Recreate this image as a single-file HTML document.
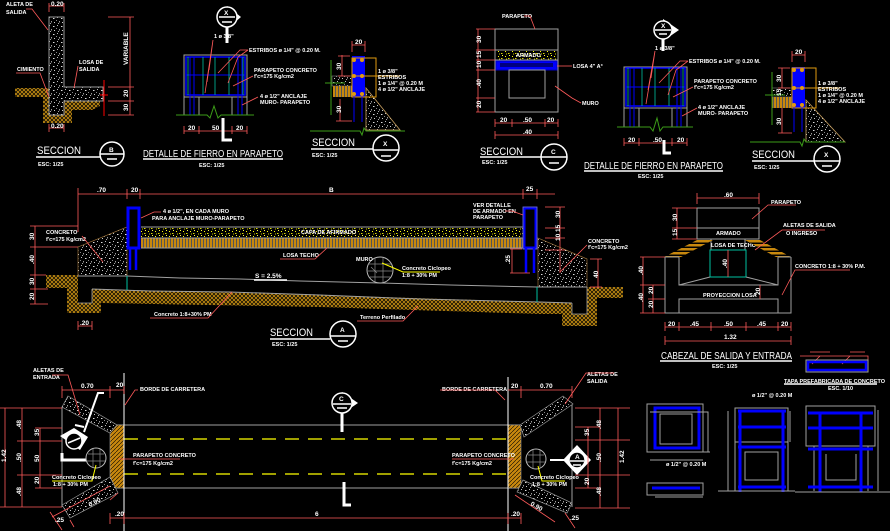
<!DOCTYPE html>
<html><head><meta charset="utf-8"><style>
html,body{margin:0;padding:0;background:#000;width:890px;height:531px;overflow:hidden}
svg{display:block}
.t{fill:#fff;font-size:5.5px;font-weight:bold}
.h{fill:#fff;font-size:11px}
.d{fill:#fff;font-size:6.5px;font-weight:bold}
.r{stroke:#ff5a5a;stroke-width:0.8;fill:none}
.g{stroke:#a0a0a0;stroke-width:1;fill:none}
.w{stroke:#fff;stroke-width:1.5;fill:none}
.tt{fill:#fff;font-size:10.5px}
</style></head><body>
<svg width="890" height="531" viewBox="0 0 890 531" xmlns="http://www.w3.org/2000/svg" font-family="Liberation Sans, sans-serif">
<defs>
<pattern id="conc" width="8" height="8" patternUnits="userSpaceOnUse"><rect width="8" height="8" fill="#000"/><rect x="1" y="1" width="1" height="1" fill="#bbb"/><rect x="5" y="2" width="1.5" height="1" fill="#ddd"/><rect x="3" y="5" width="1" height="1.5" fill="#999"/><rect x="6" y="6" width="1" height="1" fill="#ccc"/><rect x="0" y="4" width="1" height="1" fill="#888"/><rect x="2" y="7" width="1" height="1" fill="#aaa"/></pattern>
<pattern id="earth" width="4" height="4" patternUnits="userSpaceOnUse"><rect width="4" height="4" fill="#c08a12"/><path d="M0 0L4 4M4 0L0 4" stroke="#000" stroke-width="0.7"/></pattern>
<pattern id="grav" width="7" height="5" patternUnits="userSpaceOnUse"><rect width="7" height="5" fill="#000"/><rect x="1" y="1" width="1" height="1" fill="#ff0"/><rect x="4" y="3" width="1.5" height="1" fill="#dd0"/><rect x="5" y="0" width="1" height="1" fill="#ff4"/><rect x="2" y="3.5" width="1" height="1" fill="#cc0"/></pattern>
<pattern id="strp" width="3" height="10" patternUnits="userSpaceOnUse"><rect width="3" height="10" fill="#c8880e"/><rect x="2" width="1" height="10" fill="#555"/></pattern>
<pattern id="hat" width="4" height="4" patternUnits="userSpaceOnUse"><rect width="4" height="4" fill="#c8880e"/><path d="M0 4L4 0" stroke="#000" stroke-width="0.6"/></pattern>
<pattern id="wing" width="4" height="4" patternUnits="userSpaceOnUse"><rect width="4" height="4" fill="#c8880e"/><rect y="2.5" width="4" height="1.5" fill="#000"/></pattern>
</defs>

<!-- ========== SECTION B ========== -->
<path d="M15 88H49V115H64V101H100V106L92 110H72V123H43V97H15Z" fill="url(#earth)"/>
<path d="M49 17H64V87H103V101H64V115H49Z" fill="url(#conc)" stroke="#999"/>
<path class="r" d="M49 6H64M49 3V12M64 3V12"/><text class="d" x="51" y="6">0.20</text>
<path class="r" d="M49 128H64M49 124V132M64 124V132"/><text class="d" x="51" y="128">0.20</text>
<text class="t" x="6" y="6">ALETA DE</text><text class="t" x="6" y="14">SALIDA</text>
<path class="r" d="M26 9H32L48 30"/>
<text class="t" x="17" y="71">CIMIENTO</text><path class="r" d="M16 73H40L49 97"/>
<text class="t" x="79" y="64">LOSA DE</text><text class="t" x="79" y="71">SALIDA</text><path class="r" d="M78 66L74 88"/>
<path class="r" d="M130 17V115M108 17H134M108 87H134M108 101H134M108 115H134"/>
<text class="d" transform="rotate(-90 128 65)" x="128" y="65">VARIABLE</text>
<text class="d" transform="rotate(-90 128 97)" x="128" y="97">20</text>
<text class="d" transform="rotate(-90 128 111)" x="128" y="111">30</text>
<path d="M104 80V116M100 95H108" stroke="#f00" stroke-width="1"/>
<text class="h" x="37" y="154" textLength="44" lengthAdjust="spacingAndGlyphs">SECCION</text><path class="w" d="M36 157H100"/>
<circle cx="112" cy="154" r="12" class="w"/><path class="w" d="M100 154H124M107 159H117"/><text class="d" x="109" y="152">B</text>
<text class="t" x="38" y="166">ESC: 1/25</text>

<!-- ========== DETALLE FIERRO 1 ========== -->
<path d="M227 6L241 17L227 29" fill="#fff"/><circle cx="227" cy="17" r="10" fill="#000" stroke="#fff" stroke-width="1.5"/>
<path class="w" d="M219 17H235M222 22H232"/><text class="d" x="224" y="15">X</text>
<path d="M227 27V43" stroke="#fff" stroke-width="3"/>
<text class="t" x="214" y="38">1 ø 3/8"</text>
<rect x="184" y="55" width="63" height="42" class="g"/>
<rect x="186" y="57" width="59" height="38" fill="none" stroke="#0000ff" stroke-width="1.5"/>
<path d="M186 75H245M190 57V115M194 57V115M238 57V115M242 57V115" stroke="#0000ff" stroke-width="1"/>
<path d="M188 57V95M203 57V95M215 57V95M229 57V95M243 57V95" stroke="#00c0a0" stroke-width="0.8"/>
<path class="g" d="M184 97V115M199 97V115M232 97V115M247 97V115"/>
<path d="M176 115H207L210 118L214 106L218 118L221 115H254" stroke="#3c9c18" stroke-width="1" fill="none"/>
<path class="r" d="M184 131H247M184 126V134M199 126V134M232 126V134M247 126V134"/>
<text class="d" x="188" y="130">20</text><text class="d" x="212" y="130">50</text><text class="d" x="236" y="130">20</text>
<path d="M223 118V140H232" stroke="#fff" stroke-width="3" fill="none"/>
<path class="r" d="M213 40L205 93M213 40L207 82M213 40L209 70M248 50L240 50L218 73M248 50L238 57L228 83"/>
<text class="t" x="249" y="52">ESTRIBOS ø 1/4" @ 0.20 M.</text>
<text class="t" x="254" y="72">PARAPETO CONCRETO</text><text class="t" x="254" y="78">f'c=175 Kg/cm2</text>
<path class="r" d="M253 76L233 86"/>
<text class="t" x="260" y="98">4 ø 1/2" ANCLAJE</text><text class="t" x="260" y="104">MURO- PARAPETO</text>
<path class="r" d="M258 97L242 105"/>
<text class="tt" x="143" y="157" textLength="140" lengthAdjust="spacingAndGlyphs">DETALLE DE FIERRO EN PARAPETO</text>
<path class="w" d="M143 159H283" stroke-width="1"/>
<text class="t" x="199" y="167">ESC: 1/25</text>

<!-- ========== SECTION X 1 ========== -->
<rect x="332" y="76" width="20" height="10" fill="url(#conc)" stroke="#999" stroke-width="0.5"/>
<rect x="333" y="86" width="19" height="11" fill="url(#strp)"/>
<path d="M366 88L400 130H366Z" fill="url(#conc)" stroke="#c8a060" stroke-width="0.8"/>
<rect x="352" y="56" width="13" height="41" fill="#0000ff"/>
<rect x="352" y="58" width="24" height="39" fill="none" stroke="#e09a10" stroke-width="1"/>
<path d="M352 76H400" stroke="#e09a10" stroke-width="1"/>
<g fill="#e09a10"><circle cx="354" cy="60" r="2"/><circle cx="362" cy="60" r="2"/><circle cx="354" cy="76" r="2"/><circle cx="362" cy="76" r="2"/><circle cx="354" cy="94" r="2"/><circle cx="362" cy="94" r="2"/></g>
<path d="M354 97V122M362 97V122" stroke="#0000ff" stroke-width="1"/>
<path d="M331 60V115M325 83H345" stroke="#3c9c18" stroke-width="1"/>
<path d="M310 131H360L362 135L364 128L366 131H405" stroke="#3c9c18" stroke-width="1" fill="none"/>
<path class="r" d="M352 45H365M352 41V52M365 41V52M342 55V76M338 56H350M338 76H350M340 99V121M336 121H352"/>
<text class="d" x="355" y="44">20</text>
<text class="d" transform="rotate(-90 341 70)" x="341" y="70">30</text>
<text class="d" transform="rotate(-90 341 113)" x="341" y="113">30</text>
<text class="t" x="378" y="73">1 ø 3/8"</text><text class="t" x="378" y="79">ESTRIBOS</text><text class="t" x="378" y="85">1 ø 1/4" @ 0.20 M</text><text class="t" x="378" y="91">4 ø 1/2" ANCLAJE</text>
<text class="h" x="312" y="146" textLength="43" lengthAdjust="spacingAndGlyphs">SECCION</text><path class="w" d="M311 149H373"/>
<circle cx="386" cy="148" r="13" class="w"/><path class="w" d="M373 150H399M381 156H391"/><text class="d" x="383" y="146">X</text>
<text class="t" x="312" y="157">ESC: 1/25</text>

<!-- ========== SECTION C ========== -->
<rect x="496" y="51" width="61" height="9" fill="url(#grav)"/>
<rect x="495" y="29" width="63" height="83" class="g"/>
<path class="g" d="M495 50H558M495 60H558M495 70H558"/>
<rect x="496" y="61" width="61" height="9" fill="#0000ff" stroke="#0000c0"/>
<rect x="500" y="63" width="53" height="4" fill="#000" opacity="0.5"/>
<rect x="509" y="70" width="36" height="28" class="g"/>
<text class="t" x="516" y="57">ARMADO</text>
<path class="r" d="M478 29V112M476 29H495M476 50H495M476 60H495M476 70H495M476 98H495M476 112H495"/>
<text class="d" transform="rotate(-90 481 43)" x="481" y="43">30</text>
<text class="d" transform="rotate(-90 481 58)" x="481" y="58">15</text>
<text class="d" transform="rotate(-90 481 68)" x="481" y="68">10</text>
<text class="d" transform="rotate(-90 481 88)" x="481" y="88">.40</text>
<text class="d" transform="rotate(-90 481 108)" x="481" y="108">20</text>
<path class="r" d="M495 123H558M495 119V127M512 119V127M545 119V127M558 119V127M495 135H558M495 131V139M558 131V139"/>
<text class="d" x="500" y="122">20</text><text class="d" x="523" y="122">.50</text><text class="d" x="547" y="122">20</text><text class="d" x="523" y="134">.40</text>
<text class="t" x="502" y="18">PARAPETO</text><path class="r" d="M524 16H530L535 29"/>
<text class="t" x="573" y="68">LOSA 4" A°</text><path class="r" d="M557 66H572"/>
<text class="t" x="582" y="105">MURO</text><path class="r" d="M555 86L572 98L581 103"/>
<text class="h" x="480" y="155" textLength="43" lengthAdjust="spacingAndGlyphs">SECCION</text><path class="w" d="M480 157H541"/>
<circle cx="554" cy="157" r="13" class="w"/><path class="w" d="M541 157H567M549 163H559"/><text class="d" x="551" y="154">C</text>
<text class="t" x="482" y="164">ESC: 1/25</text>

<!-- ========== DETALLE FIERRO 2 ========== -->
<path d="M663 19L679 30L663 41" fill="#fff"/><circle cx="663" cy="30" r="9" fill="#000" stroke="#fff" stroke-width="1.5"/>
<path class="w" d="M655 30H671M659 34H667"/><text class="d" x="661" y="28">X</text>
<path d="M663 39V51" stroke="#fff" stroke-width="3"/>
<text class="t" x="655" y="50">1 ø 3/8"</text>
<rect x="624" y="67" width="63" height="41" class="g"/>
<rect x="626" y="68" width="59" height="38" fill="none" stroke="#0000ff" stroke-width="1.5"/>
<path d="M626 87H685M630 68V127M634 68V127M677 68V127M681 68V127" stroke="#0000ff" stroke-width="1"/>
<path d="M628 68V106M642 68V106M655 68V106M669 68V106M683 68V106" stroke="#00c0a0" stroke-width="0.8"/>
<path class="g" d="M624 108V127M639 108V127M672 108V127M687 108V127"/>
<path d="M617 127H650L653 131L657 118L660 131L663 127H693" stroke="#3c9c18" stroke-width="1" fill="none"/>
<path class="r" d="M624 143H687M624 138V146M639 138V146M672 138V146M687 138V146"/>
<text class="d" x="628" y="142">20</text><text class="d" x="653" y="142">.50</text><text class="d" x="677" y="142">20</text>
<path d="M664 140V153H671" stroke="#fff" stroke-width="3" fill="none"/>
<path class="r" d="M655 51L646 104M655 51L648 90M655 51L651 78M688 61L680 61L659 83M688 61L676 70L668 95"/>
<text class="t" x="689" y="63">ESTRIBOS ø 1/4" @ 0.20 M.</text>
<text class="t" x="694" y="83">PARAPETO CONCRETO</text><text class="t" x="694" y="89">f'c=175 Kg/cm2</text>
<path class="r" d="M693 87L673 97"/>
<text class="t" x="698" y="109">4 ø 1/2" ANCLAJE</text><text class="t" x="698" y="115">MURO- PARAPETO</text>
<path class="r" d="M697 108L682 116"/>
<text class="tt" x="584" y="169" textLength="139" lengthAdjust="spacingAndGlyphs">DETALLE DE FIERRO EN PARAPETO</text>
<path class="w" d="M584 171H723" stroke-width="1"/>
<text class="t" x="638" y="178">ESC: 1/25</text>

<!-- ========== SECTION X 2 ========== -->
<rect x="772" y="88" width="20" height="9" fill="url(#conc)" stroke="#999" stroke-width="0.5"/>
<rect x="772" y="97" width="20" height="11" fill="url(#strp)"/>
<path d="M806 100L845 142H806Z" fill="url(#conc)" stroke="#c8a060" stroke-width="0.8"/>
<rect x="792" y="67" width="13" height="41" fill="#0000ff"/>
<rect x="792" y="68" width="24" height="40" fill="none" stroke="#e09a10" stroke-width="1"/>
<path d="M792 88H840" stroke="#e09a10" stroke-width="1"/>
<g fill="#e09a10"><circle cx="794" cy="70" r="2"/><circle cx="802" cy="70" r="2"/><circle cx="794" cy="88" r="2"/><circle cx="802" cy="88" r="2"/><circle cx="794" cy="105" r="2"/><circle cx="802" cy="105" r="2"/></g>
<path d="M794 108V132M802 108V132" stroke="#0000ff" stroke-width="1"/>
<path d="M772 72V125M765 95H785" stroke="#3c9c18" stroke-width="1"/>
<path d="M750 142H800L802 146L804 139L806 142H845" stroke="#3c9c18" stroke-width="1" fill="none"/>
<path class="r" d="M792 55H805M792 51V62M805 51V62M782 68V88M778 68H790M778 88H790M782 108V133M778 133H792"/>
<text class="d" x="795" y="54">20</text>
<text class="d" transform="rotate(-90 781 82)" x="781" y="82">30</text>
<text class="d" transform="rotate(-90 781 96)" x="781" y="96">15</text>
<text class="d" transform="rotate(-90 781 125)" x="781" y="125">30</text>
<text class="t" x="818" y="85">1 ø 3/8"</text><text class="t" x="818" y="91">ESTRIBOS</text><text class="t" x="818" y="97">1 ø 1/4" @ 0.20 M</text><text class="t" x="818" y="103">4 ø 1/2" ANCLAJE</text>
<text class="h" x="752" y="158" textLength="43" lengthAdjust="spacingAndGlyphs">SECCION</text><path class="w" d="M752 161H814"/>
<circle cx="827" cy="159" r="13" class="w"/><path class="w" d="M814 161H840M822 166H832"/><text class="d" x="824" y="157">X</text>
<text class="t" x="754" y="169">ESC: 1/25</text>

<!-- ========== SECTION A (main) ========== -->
<path class="r" d="M78 194H555M78 188V232M127 189V199M140 189V199M523 189V199M537 189V199"/>
<text class="d" x="97" y="192">.70</text><text class="d" x="131" y="192">20</text><text class="d" x="329" y="192">B</text><text class="d" x="526" y="191">25</text>
<path d="M46 275H78V303H92V289H101V313H67V288H46Z" fill="url(#earth)"/>
<path d="M92 289L320 295L540 302L572 303V314L540 314L320 307L101 303Z" fill="url(#earth)"/>
<path d="M562 303H572V314H587V287H623V298H597V326H562Z" fill="url(#earth)"/>
<path d="M78 303H92V289M572 303V314H587V287" stroke="#a0a0a0" fill="none" stroke-width="0.8"/>
<path d="M78 247L127 227V276H78Z" fill="url(#conc)" stroke="#b08040" stroke-width="0.6"/>
<path d="M538 238L587 259V287H538Z" fill="url(#conc)" stroke="#b08040" stroke-width="0.6"/>
<rect x="141" y="227" width="382" height="11" fill="url(#grav)"/>
<rect x="141" y="238" width="382" height="10" fill="url(#strp)"/>
<path class="g" d="M141 227H523M141 238H523M141 248H523"/>
<path class="g" d="M78 276H127L180 278L240 279L300 281L380 283L450 285L537 287H587"/>
<path class="g" d="M92 289L150 291L230 292L320 295L420 299L540 302L572 303"/>
<path d="M127 276V290M537 287V302" stroke="#00c0a0" stroke-width="1"/>
<rect x="128" y="208" width="11" height="40" fill="#000" stroke="#0000ff" stroke-width="3"/>
<path d="M130 248V270M136 248V270" stroke="#0000ff" stroke-width="2.5"/>
<rect x="524" y="208" width="12" height="40" fill="#000" stroke="#0000ff" stroke-width="3"/>
<rect x="523" y="207" width="14" height="42" fill="none" stroke="#a0a0a0" stroke-width="0.6"/>
<path d="M526 248V273M534 248V273" stroke="#0000ff" stroke-width="2.5"/>
<circle cx="380" cy="270" r="13" fill="#000" stroke="#bbb" stroke-width="1"/>
<path d="M369 264H391M368 271H392M370 277H390M375 258V282M383 258V282M371 267L377 273" stroke="#888" stroke-width="0.7" fill="none"/>
<text class="t" x="356" y="261">MURO</text>
<path d="M382 263L403 272H440" stroke="#ff0" stroke-width="1" fill="none"/>
<text class="t" x="402" y="270">Concreto Ciclopeo</text><text class="t" x="402" y="277">1:8 + 30% PM</text>
<text class="d" x="255" y="278">S = 2.5%</text><path class="w" d="M254 280H287" stroke-width="0.8"/>
<text class="t" x="46" y="234">CONCRETO</text><text class="t" x="46" y="241">f'c=175 Kg/cm2</text>
<path class="r" d="M82 236L103 262"/>
<text class="t" x="163" y="213">4 ø 1/2", EN CADA MURO</text><text class="t" x="152" y="220">PARA ANCLAJE MURO-PARAPETO</text>
<path class="r" d="M161 212H154L141 218"/>
<text class="t" x="301" y="234">CAPA DE AFIRMADO</text>
<text class="t" x="283" y="257">LOSA TECHO</text><path class="r" d="M280 259H315L327 248"/>
<text class="t" x="473" y="207">VER DETALLE</text><text class="t" x="473" y="213">DE ARMADO EN</text><text class="t" x="473" y="219">PARAPETO</text>
<path class="r" d="M505 211L512 211L523 215"/>
<text class="t" x="588" y="243">CONCRETO</text><text class="t" x="588" y="249">f'c=175 Kg/cm2</text>
<path class="r" d="M587 245L560 272"/>
<text class="t" x="154" y="316">Concreto 1:8+30% PM</text><path class="r" d="M150 318H208L232 292"/>
<text class="t" x="360" y="319">Terreno Perfilado</text><path class="r" d="M357 321H403L418 306"/>
<path class="r" d="M35 226V304M30 226H78M30 247H78M30 275H46M30 289H48M30 304H48"/>
<text class="d" transform="rotate(-90 34 240)" x="34" y="240">30</text>
<text class="d" transform="rotate(-90 34 264)" x="34" y="264">.40</text>
<text class="d" transform="rotate(-90 34 285)" x="34" y="285">30</text>
<text class="d" transform="rotate(-90 34 300)" x="34" y="300">20</text>
<path class="r" d="M78 326H92M78 321V330M92 321V330"/><text class="d" x="80" y="325">.20</text>
<path class="r" d="M560 207V273M545 207H565M545 228H565M545 238H565M545 250H565M510 273H530M512 249V273M510 249H522M598 259V287M590 259H602M590 287H602"/>
<text class="d" transform="rotate(-90 560 218)" x="560" y="218">30</text>
<text class="d" transform="rotate(-90 560 241)" x="560" y="241">10 15</text>
<text class="d" transform="rotate(-90 510 264)" x="510" y="264">.25</text>
<text class="d" transform="rotate(-90 598 278)" x="598" y="278">40</text>
<text class="h" x="270" y="336" textLength="43" lengthAdjust="spacingAndGlyphs">SECCION</text><path class="w" d="M270 339H330"/>
<circle cx="343" cy="334" r="13" class="w"/><path class="w" d="M330 336H356M338 341H348"/><text class="d" x="340" y="332">A</text>
<text class="t" x="272" y="346">ESC: 1/25</text>

<!-- ========== CABEZAL ========== -->
<path class="r" d="M697 198H759M697 193V204M759 193V204"/><text class="d" x="724" y="197">.60</text>
<rect x="697" y="208" width="62" height="31" class="g"/><path class="g" d="M697 228H759"/>
<text class="t" x="716" y="235">ARMADO</text>
<rect x="711" y="239" width="34" height="11" class="g"/>
<text class="t" x="711" y="247">LOSA DE TECHO</text>
<rect x="710" y="250" width="36" height="27" fill="none" stroke="#00c0a0" stroke-width="1"/>
<path class="r" d="M728 250V277"/><text class="d" transform="rotate(-90 727 268)" x="727" y="268">.40</text>
<path d="M664 257L681 257L713 240L697 240Z" fill="url(#wing)"/>
<path d="M791 257L776 257L745 240L760 240Z" fill="url(#wing)"/>
<path class="g" d="M665 257V313H791V257M665 257H679M778 257H791M679 257V285H778V257M679 285L710 277M778 285L746 277"/>
<rect x="679" y="299" width="99" height="14" class="g"/>
<text class="t" x="703" y="297">PROYECCION LOSA</text>
<path class="r" d="M677 208V239M672 208H697M672 228H697M672 239H697"/>
<text class="d" transform="rotate(-90 677 221)" x="677" y="221">30</text>
<text class="d" transform="rotate(-90 677 236)" x="677" y="236">15</text>
<path class="r" d="M643 257V313M653 285V313M640 257H665M640 285H665M648 299H665M640 313H665M760 285V299"/>
<text class="d" transform="rotate(-90 643 275)" x="643" y="275">.40</text>
<text class="d" transform="rotate(-90 643 302)" x="643" y="302">.40</text>
<text class="d" transform="rotate(-90 653 294)" x="653" y="294">20</text>
<text class="d" transform="rotate(-90 653 308)" x="653" y="308">20</text>
<text class="d" transform="rotate(-90 760 295)" x="760" y="295">20</text>
<path class="r" d="M665 327H791M665 322V331M679 322V331M711 322V331M746 322V331M778 322V331M791 322V331M665 341H791M665 336V345M791 336V345"/>
<text class="d" x="668" y="326">20</text><text class="d" x="690" y="326">.45</text><text class="d" x="724" y="326">.50</text><text class="d" x="757" y="326">.45</text><text class="d" x="781" y="326">20</text>
<text class="d" x="724" y="339">1.32</text>
<text class="t" x="771" y="204">PARAPETO</text><path class="r" d="M752 219L768 205H796"/>
<text class="t" x="783" y="227">ALETAS DE SALIDA</text><text class="t" x="786" y="235">O INGRESO</text><path class="r" d="M755 250L782 230H825"/>
<text class="t" x="795" y="268">CONCRETO 1:8 + 30% P.M.</text><path class="r" d="M782 295L795 270H850"/>
<text class="tt" x="661" y="359" textLength="131" lengthAdjust="spacingAndGlyphs">CABEZAL DE SALIDA Y ENTRADA</text>
<path class="w" d="M660 361H792" stroke-width="1"/>
<text class="t" x="712" y="368">ESC: 1/25</text>

<!-- tapa -->
<path class="r" d="M800 356H868V370M820 356L812 364M850 356L842 364M810 352H830M850 352H865"/>
<rect x="806" y="360" width="62" height="12" class="g"/>
<rect x="808" y="362" width="58" height="8" fill="none" stroke="#0000ff" stroke-width="2.5"/>
<text class="t" x="784" y="383">TAPA PREFABRICADA DE CONCRETO</text><path class="w" d="M784 384H877" stroke-width="0.8"/>
<text class="t" x="828" y="390">ESC. 1/10</text>

<!-- ========== BOTTOM RIGHT REBAR ========== -->
<rect x="647" y="404" width="56" height="48" class="g"/>
<rect x="660" y="414" width="32" height="30" class="g"/>
<rect x="655" y="408" width="44" height="40" fill="none" stroke="#0000ff" stroke-width="3"/>
<path class="g" d="M650 412H708V452M650 452H710M650 460H703" stroke-width="0.7"/>
<text class="t" x="666" y="466">ø 1/2" @ 0.20 M</text>
<rect x="647" y="483" width="56" height="12" class="g"/>
<path d="M652 488H700" stroke="#0000ff" stroke-width="3"/>
<path class="g" d="M655 497H703" stroke-width="0.7"/>
<text class="t" x="752" y="397">ø 1/2" @ 0.20 M</text>
<rect x="735" y="408" width="53" height="83" class="g"/>
<rect x="745" y="452" width="33" height="28" class="g"/>
<path class="g" d="M735 442H788M728 411V491M790 411V442" stroke-width="0.7"/>
<path d="M740 411V492M783 411V492M738 411H786M738 427H786M738 447H786M738 487H786" stroke="#0000ff" stroke-width="3"/>
<rect x="806" y="406" width="69" height="40" class="g"/>
<path class="g" d="M814 446V491M868 446V491M826 454V480H856V454M878 410V491"/>
<path d="M820 412V492M861 412V492M808 413H873M808 428H873M808 449H873M808 487H873" stroke="#0000ff" stroke-width="3"/>
<path class="g" d="M718 491H795M795 492H890"/>

<!-- ========== BOTTOM PLAN ========== -->
<path class="g" d="M110 425H521M110 488H521M62 407V507M572 405V507"/>
<path d="M124 439H508M124 474H508" stroke="#ff0" stroke-width="1.3" stroke-dasharray="14 9"/>
<rect x="110" y="425" width="14" height="63" fill="url(#hat)" stroke="#a0a0a0" stroke-width="0.6"/>
<rect x="508" y="425" width="13" height="63" fill="url(#hat)" stroke="#a0a0a0" stroke-width="0.6"/>
<path d="M124 373V531M508 377V531" stroke="#fff" stroke-width="1"/>
<path d="M68 396L117 425L110 433L62 407Z" fill="url(#conc)" stroke="#999" stroke-width="0.7"/>
<path d="M62 505L110 477L118 493L70 518Z" fill="url(#conc)" stroke="#999" stroke-width="0.7"/>
<path d="M520 425L563 396L573 404L524 437Z" fill="url(#conc)" stroke="#999" stroke-width="0.7"/>
<path d="M517 492L523 480L572 503L567 513Z" fill="url(#conc)" stroke="#999" stroke-width="0.7"/>
<path d="M60 436L74 428L88 437L80 450Z" fill="#fff"/><circle cx="74" cy="441" r="8" fill="#000" stroke="#fff" stroke-width="1.5"/>
<path class="w" d="M68 443L80 438"/>
<path d="M84 432L98 393H104M84 427L75 425" stroke="#fff" stroke-width="2" fill="none"/>
<path d="M62 453V460H88" stroke="#fff" stroke-width="3" fill="none"/>
<circle cx="96" cy="458" r="10" fill="#000" stroke="#bbb" stroke-width="1"/>
<path d="M88 454H104M87 461H105M93 449V467M100 449V467" stroke="#888" stroke-width="0.7"/>
<path d="M96 465L92 481H52" stroke="#ff0" stroke-width="1" fill="none"/>
<text class="t" x="52" y="479">Concreto Ciclopeo</text><text class="t" x="53" y="486">1:8 + 30% PM</text>
<text class="t" x="133" y="457">PARAPETO CONCRETO</text><path class="r" d="M118 459H180"/><text class="t" x="133" y="465">f'c=175 Kg/cm2</text>
<path class="r" d="M5 408V507M0 408H62M22 408V507M17 441H62M17 475H62M0 507H62M40 428V488M35 428H62M35 488H62"/>
<text class="d" transform="rotate(-90 6 462)" x="6" y="462">1.42</text>
<text class="d" transform="rotate(-90 21 429)" x="21" y="429">.48</text>
<text class="d" transform="rotate(-90 21 462)" x="21" y="462">.50</text>
<text class="d" transform="rotate(-90 21 496)" x="21" y="496">.48</text>
<text class="d" transform="rotate(-90 39 436)" x="39" y="436">35</text>
<text class="d" transform="rotate(-90 39 462)" x="39" y="462">50</text>
<text class="d" transform="rotate(-90 39 484)" x="39" y="484">20</text>
<path class="r" d="M62 390H124M62 386V398M110 386V398M124 386V394"/>
<text class="d" x="81" y="388">0.70</text><text class="d" x="116" y="387">20</text>
<text class="t" x="33" y="372">ALETAS DE</text><text class="t" x="33" y="379">ENTRADA</text><path class="r" d="M52 375H68L80 415"/>
<text class="t" x="140" y="391">BORDE DE CARRETERA</text><path class="r" d="M138 390H135L125 405" stroke="#fff"/>
<path class="r" d="M50 512L62 530M52 517L110 486M70 520L74 527M110 500L118 493"/>
<text class="d" transform="rotate(-28 90 507)" x="90" y="507">0.90</text>
<text class="d" x="55" y="522">.25</text>
<path class="r" d="M110 518H521M110 513V524M124 513V524M508 513V524M521 513V524"/>
<text class="d" x="115" y="516">.20</text><text class="d" x="315" y="516">6</text><text class="d" x="511" y="516">.20</text>
<path d="M342 392L358 403L342 414" fill="#fff"/><circle cx="342" cy="403" r="10" fill="#000" stroke="#fff" stroke-width="1.5"/>
<path class="w" d="M333 404H351M337 408H347"/><text class="d" x="339" y="401">C</text>
<path d="M342 413V432" stroke="#fff" stroke-width="3"/>
<path d="M344 482V505H351" stroke="#fff" stroke-width="3" fill="none"/>
<circle cx="536" cy="459" r="10" fill="#000" stroke="#bbb" stroke-width="1"/>
<path d="M528 455H544M527 462H545M533 450V468M540 450V468" stroke="#888" stroke-width="0.7"/>
<path d="M538 466L542 481H565" stroke="#ff0" stroke-width="1" fill="none"/>
<text class="t" x="530" y="479">Concreto Ciclopeo</text><text class="t" x="532" y="486">1:8 + 30% PM</text>
<path d="M550 460H566" stroke="#fff" stroke-width="2"/>
<path d="M577 445L591 460L577 475L563 460Z" fill="#fff"/><circle cx="577" cy="460" r="8" fill="#000" stroke="#fff" stroke-width="1.5"/>
<path class="w" d="M570 461H584M573 465H581"/><text class="d" x="575" y="459">A</text>
<text class="t" x="452" y="457">PARAPETO CONCRETO</text><path class="r" d="M452 459H514"/><text class="t" x="452" y="465">f'c=175 Kg/cm2</text>
<text class="t" x="442" y="391">BORDE DE CARRETERA</text><path class="r" d="M440 390H495L505 400"/>
<path class="r" d="M508 390H572M521 386V398M572 386V398"/>
<text class="d" x="511" y="388">20</text><text class="d" x="540" y="388">0.70</text>
<text class="t" x="587" y="376">ALETAS DE</text><text class="t" x="587" y="383">SALIDA</text><path class="r" d="M614 373H586L565 404"/>
<path class="r" d="M575 408H630M575 427H600M575 440H630M575 475H630M575 488H600M575 508H630M600 408V508M588 427V488M618 408V508"/>
<text class="d" transform="rotate(-90 601 429)" x="601" y="429">.48</text>
<text class="d" transform="rotate(-90 589 436)" x="589" y="436">35</text>
<text class="d" transform="rotate(-90 601 462)" x="601" y="462">.50</text>
<text class="d" transform="rotate(-90 589 485)" x="589" y="485">20</text>
<text class="d" transform="rotate(-90 601 496)" x="601" y="496">.48</text>
<text class="d" transform="rotate(-90 624 463)" x="624" y="463">1.42</text>
<path class="r" d="M515 495L555 522M565 513L575 528"/>
<text class="d" transform="rotate(30 530 505)" x="530" y="505">0.90</text>
<text class="d" x="570" y="520">.25</text>
</svg>
</body></html>
